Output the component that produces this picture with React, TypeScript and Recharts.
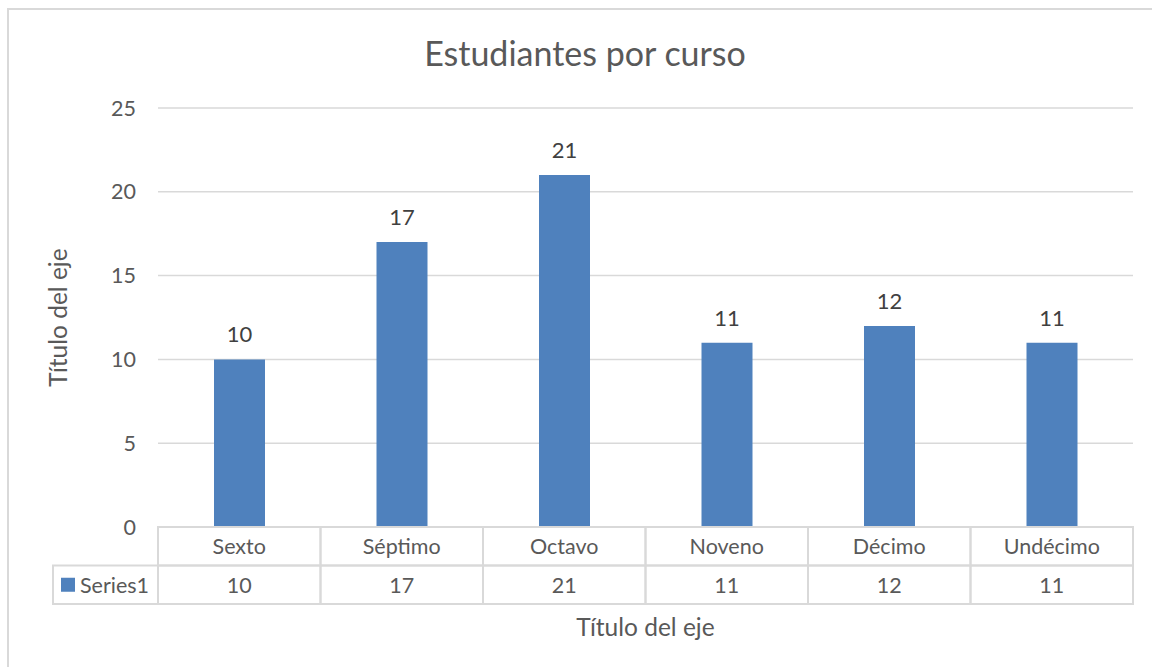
import React from 'react';
import {
  BarChart,
  Bar,
  XAxis,
  YAxis,
  CartesianGrid,
  LabelList
} from 'recharts';

const categories = ['Sexto', 'Séptimo', 'Octavo', 'Noveno', 'Décimo', 'Undécimo'];
const series1 = [10, 17, 21, 11, 12, 11];
const yTicks = [0, 5, 10, 15, 20, 25];

const seriesName = 'Series1';
const chartTitle = 'Estudiantes por curso';
const axisTitle = 'Título del eje';

const data = categories.map((c, i) => ({ curso: c, value: series1[i] }));

const W = 1152;
const H = 667;
const PLOT_LEFT = 158;
const PLOT_RIGHT = 1133;
const PLOT_TOP = 108;
const PLOT_BOTTOM = 527;
const ROW_H = 38.5;
const LEGEND_W = 105;
const BAND = (PLOT_RIGHT - PLOT_LEFT) / categories.length;

const FONT = 'Lato, "Open Sans", sans-serif';
const TEXT = '#595959';
const GRID = '#d9d9d9';
const BAR = '#4f81bd';
const FS = 21.5;

// each x tick draws its own column of the data table
const TableTick = (props: any) => {
  const { x, y, payload, index } = props;
  const left = x - BAND / 2;
  return (
    <g>
      <rect x={left} y={y} width={BAND} height={ROW_H} fill="none" stroke={GRID} strokeWidth={2} />
      <rect x={left} y={y + ROW_H} width={BAND} height={ROW_H} fill="none" stroke={GRID} strokeWidth={2} />
      <text x={x} y={y + ROW_H / 2} textAnchor="middle" dominantBaseline="central" fill={TEXT} fontSize={FS} fontFamily={FONT}>
        {payload.value}
      </text>
      <text x={x} y={y + ROW_H * 1.5} textAnchor="middle" dominantBaseline="central" fill={TEXT} fontSize={FS} fontFamily={FONT}>
        {series1[index]}
      </text>
      {index === 0 && (
        <g>
          <rect x={left - LEGEND_W} y={y + ROW_H} width={LEGEND_W} height={ROW_H} fill="none" stroke={GRID} strokeWidth={2} />
          <rect x={left - LEGEND_W + 8} y={y + ROW_H * 1.5 - 7} width={14} height={14} fill={BAR} />
          <text x={left - LEGEND_W + 27} y={y + ROW_H * 1.5} dominantBaseline="central" fill={TEXT} fontSize={FS} fontFamily={FONT}>
            {seriesName}
          </text>
        </g>
      )}
    </g>
  );
};

const YTitle = (props: any) => {
  const { viewBox } = props;
  const cx = 57;
  const cy = viewBox.y + viewBox.height / 2;
  return (
    <text x={cx} y={cy} transform={`rotate(-90, ${cx}, ${cy})`} textAnchor="middle" dominantBaseline="central" fill={TEXT} fontSize={24.5} fontFamily={FONT}>
      {axisTitle}
    </text>
  );
};

const XTitle = (props: any) => {
  const { viewBox } = props;
  const cx = viewBox.x + viewBox.width / 2;
  return (
    <text x={cx} y={626} textAnchor="middle" dominantBaseline="central" fill={TEXT} fontSize={24.5} fontFamily={FONT}>
      {axisTitle}
    </text>
  );
};

const App: React.FC = () => {
  return (
    <div style={{ position: 'absolute', left: 0, top: 0, width: W, height: H, overflow: 'hidden', background: '#fff' }}>
      <div
        style={{
          position: 'absolute',
          left: 7,
          top: 8,
          width: W + 20,
          height: H + 20,
          border: `2px solid ${GRID}`,
          boxSizing: 'border-box'
        }}
      />
      <div
        style={{
          position: 'absolute',
          left: 0,
          top: 31,
          width: 1170,
          textAlign: 'center',
          fontFamily: FONT,
          fontSize: 34,
          color: TEXT,
          lineHeight: '44px'
        }}
      >
        {chartTitle}
      </div>
      <div style={{ position: 'absolute', left: 0, top: 0 }}>
        <BarChart
          width={W}
          height={H}
          data={data}
          margin={{ top: PLOT_TOP, right: W - PLOT_RIGHT, left: 40, bottom: H - PLOT_BOTTOM - 80 }}
        >
          <CartesianGrid vertical={false} stroke={GRID} strokeWidth={1.5} />
          <XAxis
            dataKey="curso"
            height={80}
            axisLine={false}
            tickLine={false}
            tickSize={0}
            tickMargin={0}
            interval={0}
            tick={<TableTick />}
            label={<XTitle />}
          />
          <YAxis
            width={PLOT_LEFT - 40}
            domain={[0, 25]}
            ticks={yTicks}
            axisLine={false}
            tickLine={false}
            tickSize={0}
            tickMargin={22}
            tick={{ fill: TEXT, fontSize: FS, fontFamily: FONT }}
            label={<YTitle />}
          />
          <Bar dataKey="value" fill={BAR} barSize={51} isAnimationActive={false}>
            <LabelList dataKey="value" position="top" offset={17} fill="#404040" fontSize={22} fontFamily={FONT} />
          </Bar>
        </BarChart>
      </div>
    </div>
  );
};

export default App;
